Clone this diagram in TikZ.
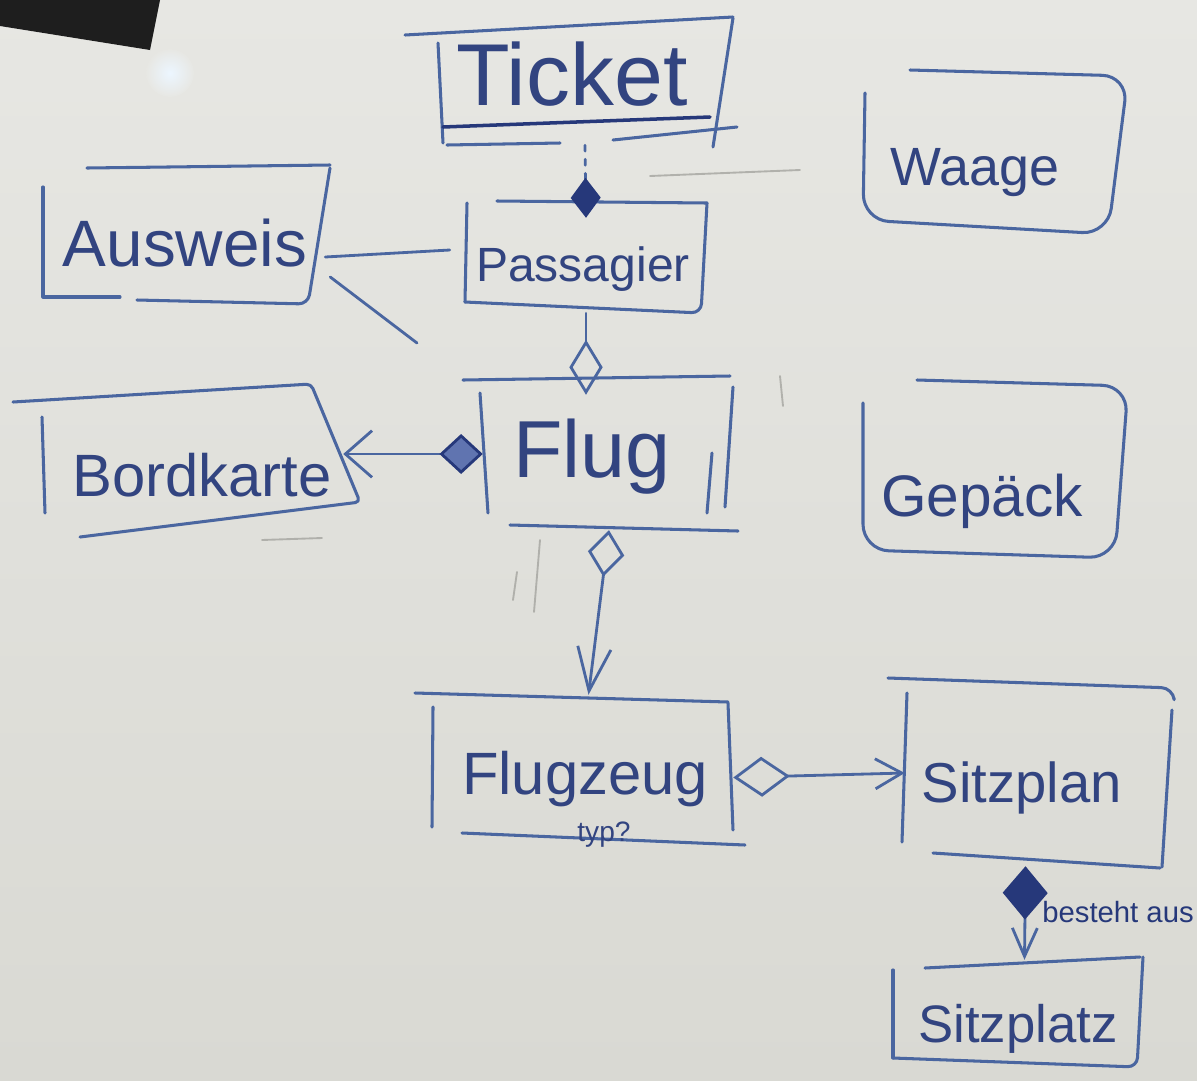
\documentclass[tikz,border=0pt]{standalone}
\usepackage{fontspec}
\newfontfamily\hand{Liberation Sans}
\usetikzlibrary{arrows.meta,calc,fit}

\definecolor{boardtop}{RGB}{231,231,227}
\definecolor{boardlow}{RGB}{217,217,211}
\definecolor{pen}{RGB}{74,102,160}
\definecolor{ink}{RGB}{50,68,128}
\definecolor{darkink}{RGB}{38,56,122}
\definecolor{hatch}{RGB}{96,116,176}
\definecolor{ghost}{RGB}{165,165,160}
\definecolor{eraser}{RGB}{30,30,30}
\definecolor{glow}{RGB}{236,246,255}

\begin{document}
\begin{tikzpicture}[x=0.03cm, y=-0.03cm,
  outline/.style={draw=pen, line width=2.6pt, line cap=round, line join=round},
  area/.style={inner sep=0pt, draw=none},
  lbl/.style={font=\hand\fontsize{#1}{#1}\selectfont, text=ink, inner sep=0pt, anchor=base},
  link/.style={draw=pen, line width=2.4pt, line cap=round},
]
\useasboundingbox (0,0) rectangle (1197,1080);

% whiteboard, eraser in the corner and the lamp reflection
\shade[top color=boardtop, bottom color=boardlow] (0,0) rectangle (1197,1080);
\fill[eraser] (0,0) -- (160,0) -- (150,50) -- (0,26) -- cycle;
\shade[inner color=glow, outer color=boardtop] (170,73) circle (24);

% faint leftovers of wiped-out writing
\begin{scope}[draw=ghost, line width=1.6pt, line cap=round, opacity=0.8]
  \draw (540,540) -- (534,612);
  \draw (517,572) -- (513,600);
  \draw (650,176) -- (800,170);
  \draw (780,376) -- (783,406);
  \draw (262,540) -- (322,538);
\end{scope}

% class areas (used as connector anchors)
\node[area, fit={(437,20) (733,145)}]   (ticket)    {};
\node[area, fit={(465,201) (707,313)}]  (passagier) {};
\node[area, fit={(43,167) (330,303)}]   (ausweis)   {};
\node[area, fit={(13,385) (343,537)}]   (bordkarte) {};
\node[area, fit={(483,378) (735,530)}]  (flug)      {};
\node[area, fit={(863,70) (1130,235)}]  (waage)     {};
\node[area, fit={(863,380) (1128,560)}] (gepaeck)   {};
\node[area, fit={(432,695) (733,840)}]  (flugzeug)  {};
\node[area, fit={(905,680) (1170,866)}] (sitzplan)  {};
\node[area, fit={(893,960) (1140,1065)}] (sitzplatz) {};

% hand-drawn class outlines
\begin{scope}[outline]
  % Ticket
  \draw (405,35) -- (733,17);
  \draw (438,43) -- (443,143);
  \draw (733,18) -- (713,147);
  \draw[line width=3pt, draw=darkink] (443,127) -- (710,117);
  \draw (447,145) -- (560,143);
  \draw (613,140) -- (737,127);
  % Passagier
  \draw (497,201) -- (707,203);
  \draw (467,203) -- (465,302);
  \draw[rounded corners=8pt] (707,203) -- (701,313) -- (465,302);
  % Ausweis
  \draw (87,168) -- (330,165);
  \draw (43,187) -- (43,297) -- (120,297);
  \draw[rounded corners=8pt] (330,168) -- (308,304) -- (137,300);
  % Bordkarte
  \draw[rounded corners=4pt] (13,402) -- (311,384) -- (360,502) -- (80,537);
  \draw (42,417) -- (45,513);
  % Flug
  \draw (463,380) -- (730,376);
  \draw (480,393) -- (488,513);
  \draw (733,387) -- (725,507);
  \draw (712,453) -- (707,513);
  \draw (510,525) -- (738,531);
  % Waage
  \draw[rounded corners=22pt] (910,70) -- (1128,76) -- (1108,234) -- (863,220) -- (865,93);
  % Gepaeck
  \draw[rounded corners=22pt] (917,380) -- (1128,386) -- (1115,558) -- (863,550) -- (863,403);
  % Flugzeug
  \draw (415,693) -- (728,702);
  \draw (433,707) -- (432,827);
  \draw (728,703) -- (733,830);
  \draw (462,833) -- (745,845);
  % Sitzplan
  \draw[rounded corners=10pt] (888,678) -- (1173,688) -- (1174,698);
  \draw (907,693) -- (902,842);
  \draw (1172,710) -- (1162,867);
  \draw (933,853) -- (1160,868);
  % Sitzplatz
  \draw (925,968) -- (1140,957);
  \draw (893,970) -- (893,1058);
  \draw[rounded corners=8pt] (1143,957) -- (1137,1067) -- (893,1058);
\end{scope}

% class names
\node[lbl=75] (tTicket)    at (572,105)  {Ticket};
\node[lbl=56] (tAusweis)   at (185,266)  {Ausweis};
\node[lbl=41] (tPassagier) at (583,281)  {Passagier};
\node[lbl=51] (tBordkarte) at (202,496)  {Bordkarte};
\node[lbl=69] (tFlug)      at (592,477)  {Flug};
\node[lbl=46] (tWaage)     at (975,185)  {Waage};
\node[lbl=50] (tGepaeck)   at (982,516)  {Gepäck};
\node[lbl=51] (tFlugzeug)  at (585,794)  {Flugzeug};
\node[lbl=24] (tTyp)       at (604,841)  {typ?};
\node[lbl=48] (tSitzplan)  at (1022,802) {Sitzplan};
\node[lbl=45] (tSitzplatz) at (1018,1042) {Sitzplatz};

% relations
\draw[link, dash pattern=on 5pt off 7pt,
      -{Diamond[fill=darkink, color=darkink, length=1.2cm, width=0.9cm]}]
  (ticket.south) -- ($(passagier.north)+(0,17)$);

\draw[link, -{Diamond[open, length=1.65cm, width=1.0cm]}]
  (passagier.south) -- ($(passagier.south |- flug.north)+(0,17)$);

\draw[link] ($(ausweis.east)+(-5,22)$) -- ($(passagier.west)+(-15,-7)$);
\coordinate (ausweisend) at (417,343);
\draw[link] ($(ausweis.east)+(0,42)$) -- (ausweisend);

\draw[link, {Diamond[fill=hatch, color=darkink, length=1.3cm, width=1.2cm]}-{Straight Barb[length=0.8cm, width=1.4cm]}]
  (flug.west) -- (flug.west -| bordkarte.east);

\draw[link, {Diamond[open, length=1.4cm, width=1.1cm]}-{Straight Barb[length=1.3cm, width=1.0cm]}]
  (flug.south) -- ($(flugzeug.north)+(6,0)$);

\draw[link, {Diamond[open, length=1.7cm, width=1.2cm]}-{Straight Barb[length=0.8cm, width=0.9cm]}]
  ($(flugzeug.east)+(0,10)$) -- (sitzplan.west);

\draw[link, {Diamond[fill=darkink, color=darkink, length=1.6cm, width=1.35cm]}-{Straight Barb[length=0.85cm, width=0.75cm]}]
  ($(sitzplan.south)+(-12,0)$) -- ($(sitzplatz.north)+(8,0)$);
\node[lbl=25, text=darkink] (tBesteht) at (1118,922) {besteht aus};

\end{tikzpicture}
\end{document}
